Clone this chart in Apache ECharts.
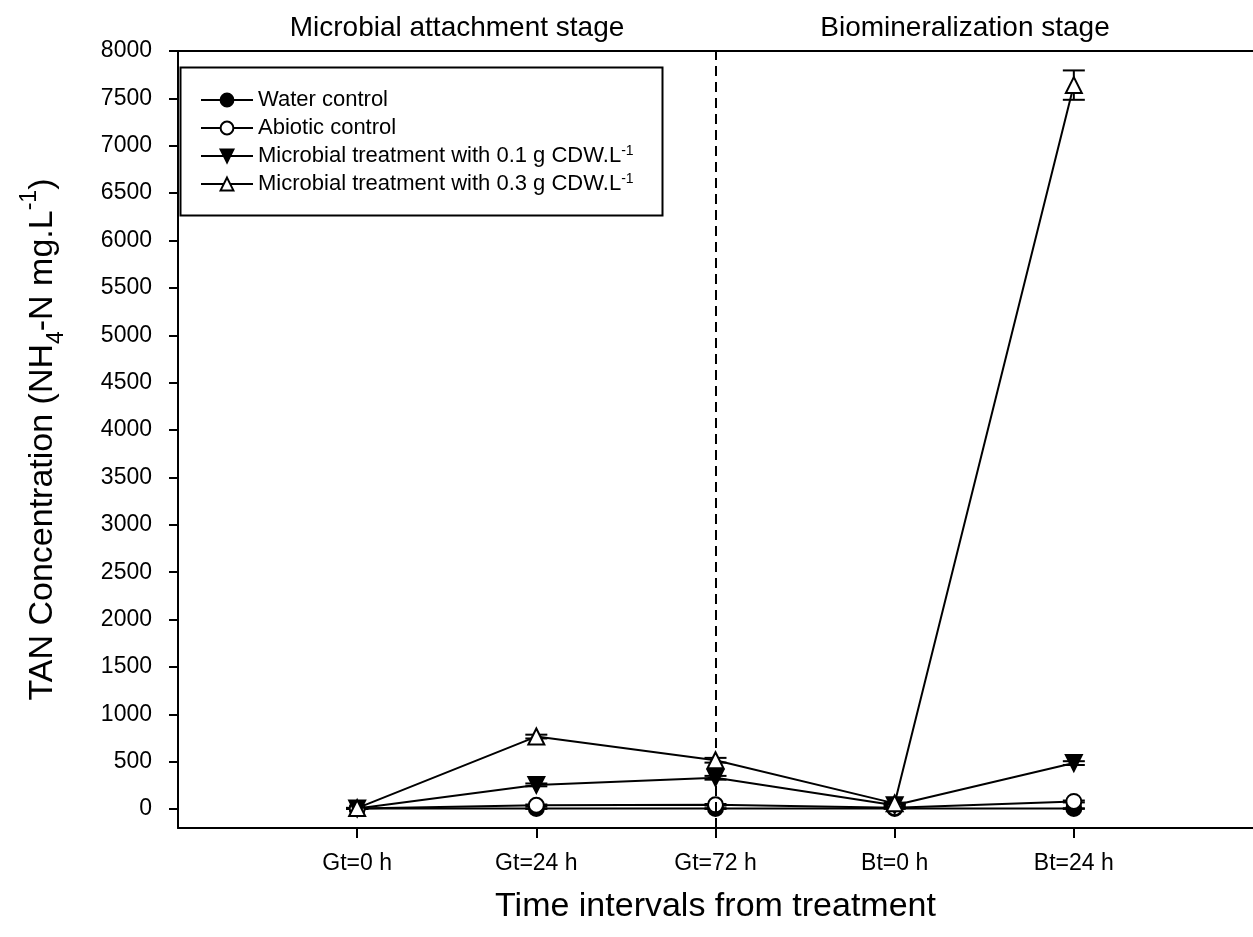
<!DOCTYPE html>
<html>
<head>
<meta charset="utf-8">
<script src="https://cdn.jsdelivr.net/npm/echarts@6/dist/echarts.min.js"></script>
<style>html,body{margin:0;padding:0;background:#fff}#c{width:1253px;height:937px}</style>
</head>
<body>
<div id="c"></div>
<script>
// ---- data ----
const categories = ['Gt=0 h', 'Gt=24 h', 'Gt=72 h', 'Bt=0 h', 'Bt=24 h'];
const yTicks = [0,500,1000,1500,2000,2500,3000,3500,4000,4500,5000,5500,6000,6500,7000,7500,8000];
const seriesNames = ['Water control', 'Abiotic control', 'Microbial treatment with 0.1 g CDW.L-1', 'Microbial treatment with 0.3 g CDW.L-1'];
const waterControl   = [5, 5, 5, 5, 5];
const abioticControl = [5, 40, 45, 15, 80];
const microbial01    = [5, 255, 330, 40, 485];
const microbial03    = [10, 765, 515, 60, 7640];
const waterErr   = [3, 3, 3, 3, 3];
const abioticErr = [3, 8, 8, 3, 10];
const micro01Err = [3, 15, 20, 8, 20];
const micro03Err = [3, 20, 25, 8, 155];
const stageLabels = ['Microbial attachment stage', 'Biomineralization stage'];
const stageBoundary = 3; // Gt=72 h

const FONT = '"Liberation Sans", Arial, sans-serif';
const allValues = [waterControl, abioticControl, microbial01, microbial03];
const allErrs = [waterErr, abioticErr, micro01Err, micro03Err];
const toPts = arr => arr.map((v, i) => [i + 1, v]);

const symbolDefs = [
  {symbol: 'circle', fill: '#000', rotate: 0, size: 15},
  {symbol: 'circle', fill: '#fff', rotate: 0, size: 15},
  {symbol: 'triangle', fill: '#000', rotate: 180, size: 16},
  {symbol: 'triangle', fill: '#fff', rotate: 0, size: 16}
];

const series = [];
// error bars
allValues.forEach((vals, si) => {
  series.push({
    type: 'custom',
    name: 'err' + si,
    data: vals.map((v, i) => [i + 1, v - allErrs[si][i], v + allErrs[si][i]]),
    z: 1,
    silent: true,
    renderItem: function (params, api) {
      const x = api.value(0);
      const lo = api.coord([x, api.value(1)]);
      const hi = api.coord([x, api.value(2)]);
      const hw = 11;
      const st = {stroke: '#000', lineWidth: 2};
      return {type: 'group', children: [
        {type: 'line', shape: {x1: lo[0], y1: lo[1], x2: hi[0], y2: hi[1]}, style: st},
        {type: 'line', shape: {x1: lo[0] - hw, y1: lo[1], x2: lo[0] + hw, y2: lo[1]}, style: st},
        {type: 'line', shape: {x1: hi[0] - hw, y1: hi[1], x2: hi[0] + hw, y2: hi[1]}, style: st}
      ]};
    }
  });
});
allValues.forEach((vals, si) => {
  const s = {
    type: 'line',
    name: seriesNames[si],
    data: toPts(vals),
    symbol: symbolDefs[si].symbol,
    symbolSize: symbolDefs[si].size,
    symbolRotate: symbolDefs[si].rotate,
    z: 2 + si,
    lineStyle: {color: '#000', width: 2},
    itemStyle: {color: symbolDefs[si].fill, borderColor: '#000', borderWidth: 2},
    emphasis: {disabled: true},
    animation: false
  };
  if (si === 0) {
    s.markLine = {
      silent: true,
      symbol: 'none',
      label: {show: false},
      lineStyle: {color: '#000', width: 2, type: [10, 6]},
      data: [{xAxis: stageBoundary}]
    };
  }
  series.push(s);
});

const chart = echarts.init(document.getElementById('c'), null, {renderer: 'canvas'});
chart.setOption({
  animation: false,
  backgroundColor: '#fff',
  grid: {left: 178, right: 0, top: 51, bottom: 109},
  xAxis: [{
    type: 'value', min: 0, max: 6, position: 'bottom',
    axisLine: {onZero: false, lineStyle: {color: '#000', width: 2}},
    axisTick: {customValues: [1,2,3,4,5], length: 10, lineStyle: {color: '#000', width: 2}},
    axisLabel: {customValues: [1,2,3,4,5], formatter: v => categories[Math.round(v) - 1], color: '#000', fontFamily: FONT, fontSize: 23, margin: 24},
    splitLine: {show: false},
    name: 'Time intervals from treatment', nameLocation: 'middle', nameGap: 62,
    nameTextStyle: {color: '#000', fontFamily: FONT, fontSize: 34}
  }, {
    type: 'value', min: 0, max: 6, position: 'top',
    axisLine: {show: true, onZero: false, lineStyle: {color: '#000', width: 2}},
    axisTick: {show: false}, axisLabel: {show: false}, splitLine: {show: false}
  }],
  yAxis: {
    type: 'value', min: -200, max: 8000,
    axisLine: {show: true, onZero: false, lineStyle: {color: '#000', width: 2}},
    axisTick: {show: true, customValues: yTicks, length: 9, lineStyle: {color: '#000', width: 2}},
    axisLabel: {customValues: yTicks, formatter: v => String(v), color: '#000', fontFamily: FONT, fontSize: 23, margin: 26},
    splitLine: {show: false},
    name: 'TAN Concentration (NH{sub|4}-N mg.L{sup|-1})',
    nameLocation: 'middle', nameGap: 110, nameRotate: 90,
    nameTextStyle: {color: '#000', fontFamily: FONT, fontSize: 34, lineHeight: 50,
      rich: {
        sub: {fontFamily: FONT, fontSize: 23, lineHeight: 23, verticalAlign: 'bottom', color: '#000'},
        sup: {fontFamily: FONT, fontSize: 23, lineHeight: 23, verticalAlign: 'top', color: '#000'}
      }}
  },
  legend: {
    orient: 'vertical', left: 195, top: 83,
    data: seriesNames,
    itemWidth: 52, itemHeight: 16, itemGap: 4,
    selectedMode: false,
    formatter: n => n.replace('L-1', 'L{sup|-1}'),
    textStyle: {color: '#000', fontFamily: FONT, fontSize: 22, lineHeight: 24, padding: [0, 0, 0, 0],
      rich: {sup: {fontFamily: FONT, fontSize: 14, lineHeight: 14, verticalAlign: 'top', color: '#000'}}}
  },
  graphic: [
    {type: 'rect', left: 178, top: 65, shape: {width: 482, height: 148}, style: {fill: 'none', stroke: '#000', lineWidth: 2}, z: 10},
    {type: 'text', x: 457, y: 28, style: {text: stageLabels[0], fontFamily: FONT, fontSize: 28, fill: '#000', textAlign: 'center', textVerticalAlign: 'middle'}},
    {type: 'text', x: 965, y: 28, style: {text: stageLabels[1], fontFamily: FONT, fontSize: 28, fill: '#000', textAlign: 'center', textVerticalAlign: 'middle'}}
  ],
  series: series
});
</script>
</body>
</html>
